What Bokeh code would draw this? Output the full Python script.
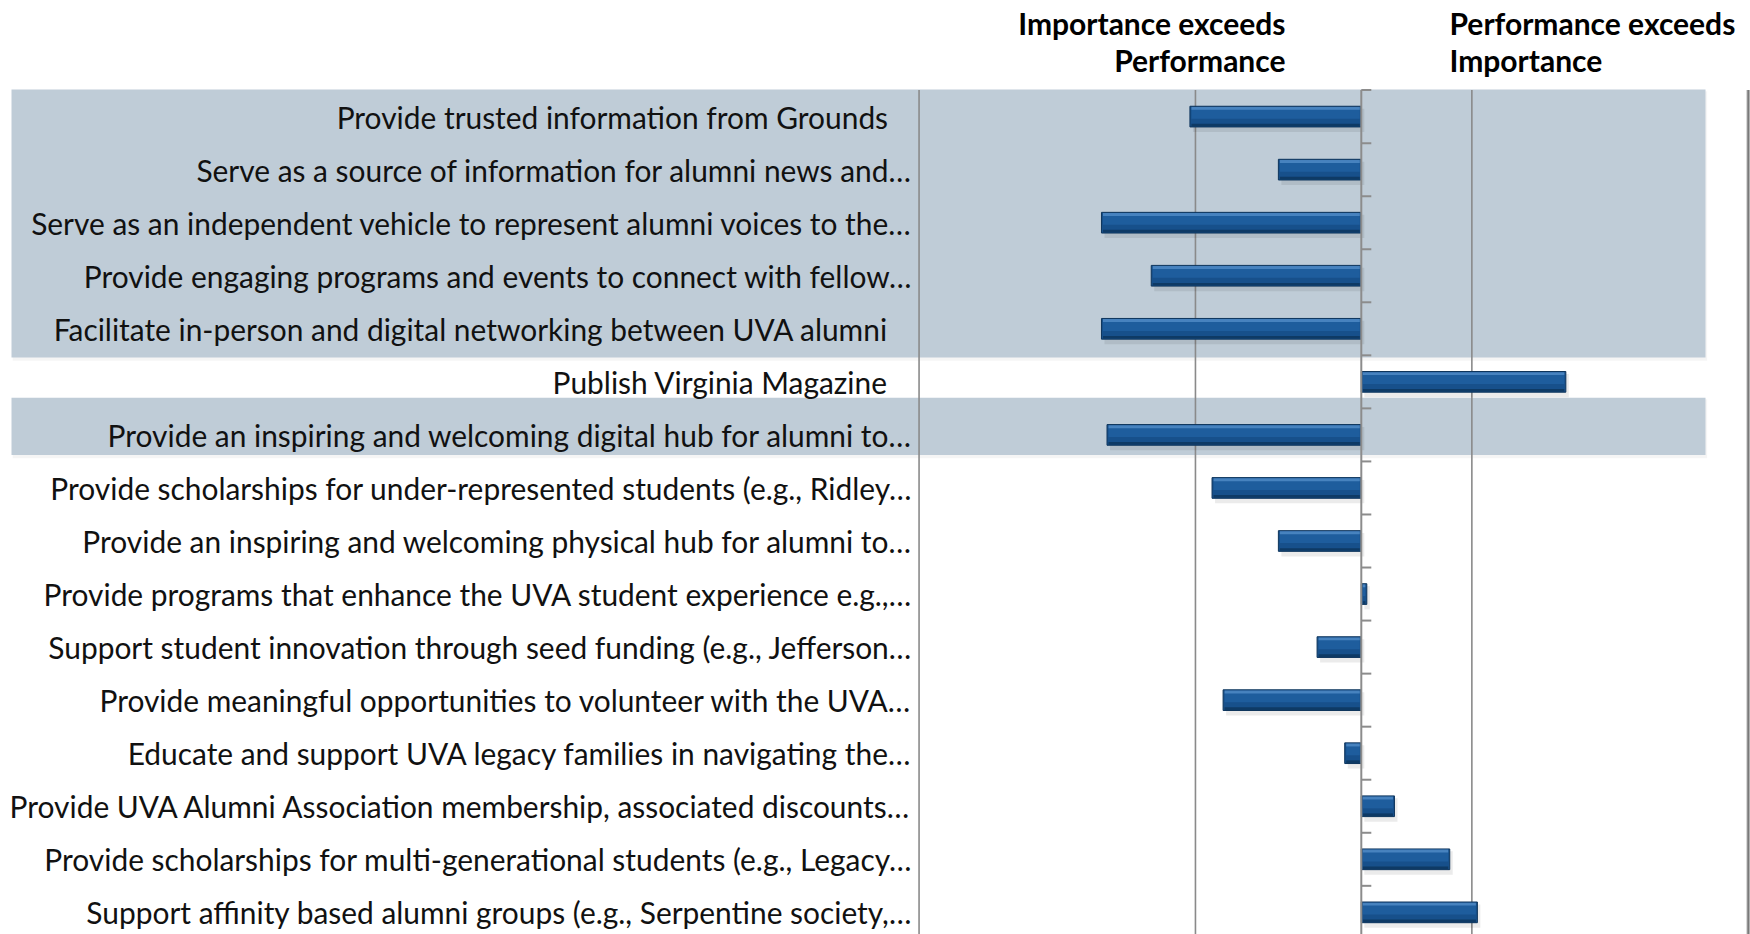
from bokeh.plotting import figure
from bokeh.models import Range1d, ColumnDataSource, Label
from bokeh.embed import file_html
from bokeh.resources import INLINE
from bokeh.core.properties import value

# ---------------- data ----------------
categories = [
    "Provide trusted information from Grounds",
    "Serve as a source of information for alumni news and\u2026",
    "Serve as an independent vehicle to represent alumni voices to the\u2026",
    "Provide engaging programs and events to connect with fellow\u2026",
    "Facilitate in-person and digital networking between UVA alumni",
    "Publish Virginia Magazine",
    "Provide an inspiring and welcoming digital hub for alumni to\u2026",
    "Provide scholarships for under-represented students (e.g., Ridley\u2026",
    "Provide an inspiring and welcoming physical hub for alumni to\u2026",
    "Provide programs that enhance the UVA student experience e.g.,\u2026",
    "Support student innovation through seed funding (e.g., Jefferson\u2026",
    "Provide meaningful opportunities to volunteer with the UVA\u2026",
    "Educate and support UVA legacy families in navigating the\u2026",
    "Provide UVA Alumni Association membership, associated discounts\u2026",
    "Provide scholarships for multi-generational students (e.g., Legacy\u2026",
    "Support affinity based alumni groups (e.g., Serpentine society,\u2026",
]
gap_values = [-0.62, -0.30, -0.94, -0.76, -0.94, 0.74, -0.92, -0.54,
              -0.30, 0.02, -0.16, -0.50, -0.06, 0.12, 0.32, 0.42]
highlight_groups = [(0, 4), (6, 6)]   # shaded row groups (first, last)
axis_min, axis_max, major_unit = -1.6, 1.4, 1.0
header_left = ["Importance exceeds", "Performance"]
header_right = ["Performance exceeds", "Importance"]

# ---------------- layout (pixels) ----------------
W, H = 1750, 934
PX_X = 276.4          # px per value unit
ZERO_X = 1360.8       # canvas x of value 0
ROW = 53.05           # px per category row
ROW0_Y = 116.1        # canvas y of first row centre

def vx(px):
    return (px - ZERO_X) / PX_X

def ry(py):
    return (py - ROW0_Y) / ROW

p = figure(width=W, height=H, output_backend="svg", toolbar_location=None,
           x_range=Range1d(vx(0), vx(W)), y_range=Range1d(ry(H), ry(0)),
           x_axis_location=None, y_axis_location=None, min_border=0,
           background_fill_color="white", border_fill_color="white")
p.outline_line_color = None
p.grid.visible = False

n = len(categories)
rows = list(range(n))

# shaded bands
band_l, band_r = vx(11), vx(1705)
for a, b in highlight_groups:
    top = a - 0.5 - 0.01 if a == 0 else a - 0.5 - 0.2
    bot = b + 0.5 + 0.04 if a == 0 else b + 0.5 - 0.12
    p.quad(left=band_l + 0.004, right=band_r + 0.006, top=top + 0.03, bottom=bot + 0.06,
           fill_color="#000000", fill_alpha=0.04, line_color=None)
    p.quad(left=band_l, right=band_r, top=top, bottom=bot,
           fill_color="#BFCCD7", line_color=None)

# gridlines (including plot borders)
grid_vals = []
g = axis_min
while g <= axis_max + 1e-9:
    grid_vals.append(round(g, 6))
    g += major_unit
p.segment(x0=grid_vals, x1=grid_vals, y0=[-0.5] * len(grid_vals), y1=[n + 1] * len(grid_vals),
          line_color="#8A8A8A", line_width=1.6)
p.segment(x0=[axis_max], x1=[axis_max], y0=[-0.5], y1=[n + 1],
          line_color="#B5B5B5", line_width=3.5)
p.segment(x0=[axis_max], x1=[axis_max], y0=[-0.5], y1=[n + 1],
          line_color="#7A7A7A", line_width=1.6)

# bars
lefts = [min(0, v) for v in gap_values]
rights = [max(0, v) for v in gap_values]
inset = 1.5 / PX_X
src = ColumnDataSource(dict(y=rows, left=lefts, right=rights))
sh = 3 / PX_X
shadow = ColumnDataSource(dict(y=[r + 0.07 for r in rows],
                               left=[l + sh for l in lefts], right=[r + sh for r in rights]))
p.hbar(y="y", left="left", right="right", height=0.44, source=shadow,
       fill_color="#000000", fill_alpha=0.08, line_color=None)
p.hbar(y="y", left="left", right="right", height=0.39, source=src,
       fill_color="#17508B", line_color="#0E355C", line_width=1)
upper = ColumnDataSource(dict(y=[r - 0.06 for r in rows],
                              left=[l + inset for l in lefts], right=[r - inset for r in rights]))
p.hbar(y="y", left="left", right="right", height=0.2, source=upper,
       fill_color="#1F5E9E", fill_alpha=0.9, line_color=None)
hl = ColumnDataSource(dict(y=[r - 0.155 for r in rows],
                           left=[l + inset for l in lefts], right=[r - inset for r in rights]))
p.hbar(y="y", left="left", right="right", height=0.055, source=hl,
       fill_color="#4F8AC6", fill_alpha=0.85, line_color=None)
dk = ColumnDataSource(dict(y=[r + 0.16 for r in rows],
                           left=[l + inset for l in lefts], right=[r - inset for r in rights]))
p.hbar(y="y", left="left", right="right", height=0.05, source=dk,
       fill_color="#0D3760", fill_alpha=0.9, line_color=None)

# zero axis with tick marks
p.segment(x0=[0], x1=[0], y0=[-0.5], y1=[n + 1], line_color="#8C8C8C", line_width=2)
tick_y = [i - 0.5 for i in range(n + 1)]
tick_len = 10 / PX_X
p.segment(x0=[0] * len(tick_y), x1=[tick_len] * len(tick_y), y0=tick_y, y1=tick_y,
          line_color="#8C8C8C", line_width=2)

# category labels
offsets = [-7 if c.endswith("\u2026") else -31 for c in categories]
lab = ColumnDataSource(dict(x=[axis_min] * n, y=rows, text=categories, xo=offsets))
p.text(x="x", y="y", text="text", x_offset="xo", source=lab,
       text_align="right", text_baseline="middle",
       text_font=value("Lato"), text_font_size="29.9px", text_color="#111111")

# header labels
for i, t in enumerate(header_left):
    p.add_layout(Label(x=vx(1285), y=ry(22 + 37 * i), text=t, text_align="right",
                       text_baseline="middle", text_font="Lato", text_font_size="30px",
                       text_font_style="bold", text_color="#000000"))
for i, t in enumerate(header_right):
    p.add_layout(Label(x=vx(1449), y=ry(22 + 37 * i), text=t, text_align="left",
                       text_baseline="middle", text_font="Lato", text_font_size="30px",
                       text_font_style="bold", text_color="#000000"))

open("out.html", "w").write(file_html(p, INLINE))
